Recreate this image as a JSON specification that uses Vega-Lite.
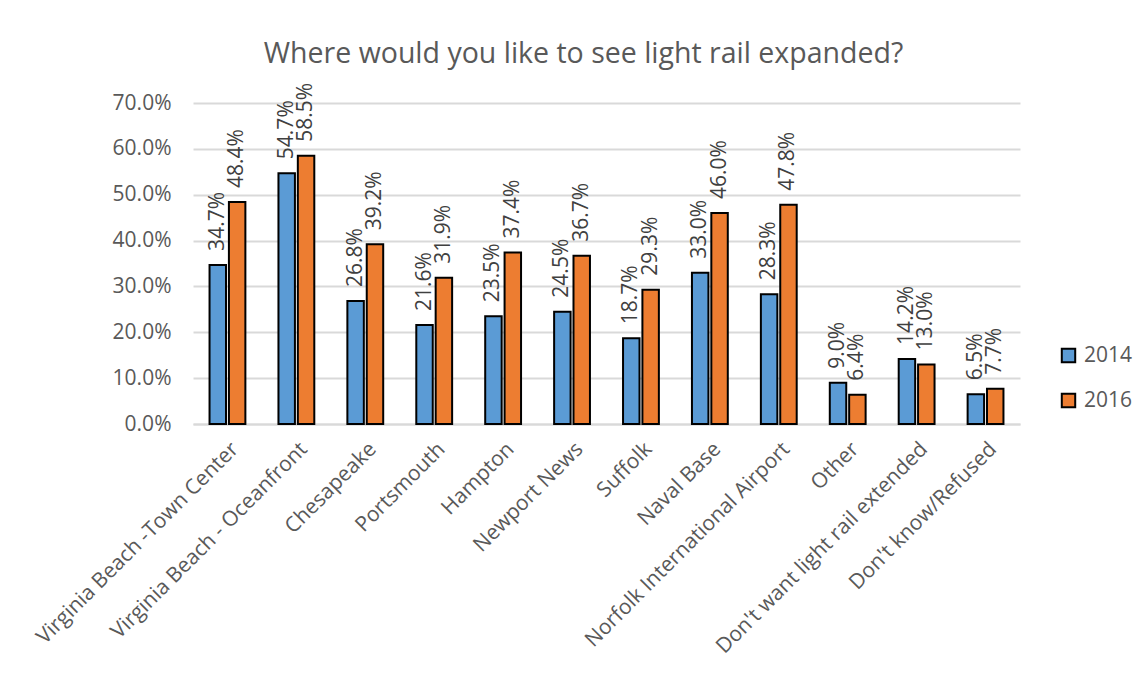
{
  "$schema": "https://vega.github.io/schema/vega-lite/v6.json",
  "width": 827,
  "height": 321,
  "autosize": {"type": "none"},
  "padding": {"left": 193, "top": 103, "right": 125, "bottom": 253},
  "background": "white",
  "title": {
    "text": "Where would you like to see light rail expanded?",
    "font": "Open Sans",
    "fontSize": 28.5,
    "fontWeight": "normal",
    "color": "#595959",
    "anchor": "middle",
    "dx": -23,
    "offset": 14
  },
  "config": {
    "view": {"stroke": null},
    "font": "Open Sans"
  },
  "data": {
    "values": [
      {"place": "Virginia Beach -Town Center", "year": "2014", "pct": 0.347},
      {"place": "Virginia Beach -Town Center", "year": "2016", "pct": 0.484},
      {"place": "Virginia Beach - Oceanfront", "year": "2014", "pct": 0.547},
      {"place": "Virginia Beach - Oceanfront", "year": "2016", "pct": 0.585},
      {"place": "Chesapeake", "year": "2014", "pct": 0.268},
      {"place": "Chesapeake", "year": "2016", "pct": 0.392},
      {"place": "Portsmouth", "year": "2014", "pct": 0.216},
      {"place": "Portsmouth", "year": "2016", "pct": 0.319},
      {"place": "Hampton", "year": "2014", "pct": 0.235},
      {"place": "Hampton", "year": "2016", "pct": 0.374},
      {"place": "Newport News", "year": "2014", "pct": 0.245},
      {"place": "Newport News", "year": "2016", "pct": 0.367},
      {"place": "Suffolk", "year": "2014", "pct": 0.187},
      {"place": "Suffolk", "year": "2016", "pct": 0.293},
      {"place": "Naval Base", "year": "2014", "pct": 0.330},
      {"place": "Naval Base", "year": "2016", "pct": 0.460},
      {"place": "Norfolk International Airport", "year": "2014", "pct": 0.283},
      {"place": "Norfolk International Airport", "year": "2016", "pct": 0.478},
      {"place": "Other", "year": "2014", "pct": 0.090},
      {"place": "Other", "year": "2016", "pct": 0.064},
      {"place": "Don't want light rail extended", "year": "2014", "pct": 0.142},
      {"place": "Don't want light rail extended", "year": "2016", "pct": 0.130},
      {"place": "Don't know/Refused", "year": "2014", "pct": 0.065},
      {"place": "Don't know/Refused", "year": "2016", "pct": 0.077}
    ]
  },
  "encoding": {
    "x": {
      "field": "place",
      "type": "nominal",
      "sort": null,
      "title": null,
      "scale": {"paddingInner": 0.48, "paddingOuter": 0.24},
      "axis": {
        "labelAngle": -45,
        "labelAlign": "right",
        "labelBaseline": "top",
        "labelFontSize": 21,
        "labelColor": "#595959",
        "labelFont": "Open Sans",
        "labelPadding": 14,
        "labelLimit": 400,
        "ticks": false,
        "domainColor": "#D9D9D9",
        "domainWidth": 2
      }
    },
    "xOffset": {
      "field": "year",
      "type": "nominal",
      "scale": {"paddingInner": 0.15}
    },
    "y": {
      "field": "pct",
      "type": "quantitative",
      "title": null,
      "scale": {"domain": [0, 0.7], "nice": false},
      "axis": {
        "values": [0, 0.1, 0.2, 0.3, 0.4, 0.5, 0.6, 0.7],
        "format": ".1%",
        "labelFontSize": 21,
        "labelColor": "#595959",
        "labelFont": "Open Sans",
        "labelPadding": 22,
        "ticks": false,
        "domain": false,
        "gridColor": "#D9D9D9",
        "gridWidth": 2
      }
    }
  },
  "layer": [
    {
      "mark": {"type": "bar", "stroke": "black", "strokeWidth": 2},
      "encoding": {
        "color": {
          "field": "year",
          "type": "nominal",
          "scale": {"domain": ["2014", "2016"], "range": ["#5B9BD5", "#ED7D31"]},
          "legend": {
            "title": null,
            "orient": "none",
            "legendX": 865,
            "legendY": 242,
            "symbolType": "square",
            "symbolSize": 180,
            "symbolStrokeColor": "black",
            "symbolStrokeWidth": 2,
            "labelFontSize": 21,
            "labelColor": "#595959",
            "labelFont": "Open Sans",
            "rowPadding": 22,
            "labelOffset": 5
          }
        }
      }
    },
    {
      "mark": {
        "type": "text",
        "angle": 270,
        "align": "left",
        "baseline": "middle",
        "dx": 14,
        "fontSize": 21,
        "color": "#404040",
        "font": "Open Sans"
      },
      "encoding": {
        "text": {"field": "pct", "type": "quantitative", "format": ".1%"}
      }
    }
  ]
}
